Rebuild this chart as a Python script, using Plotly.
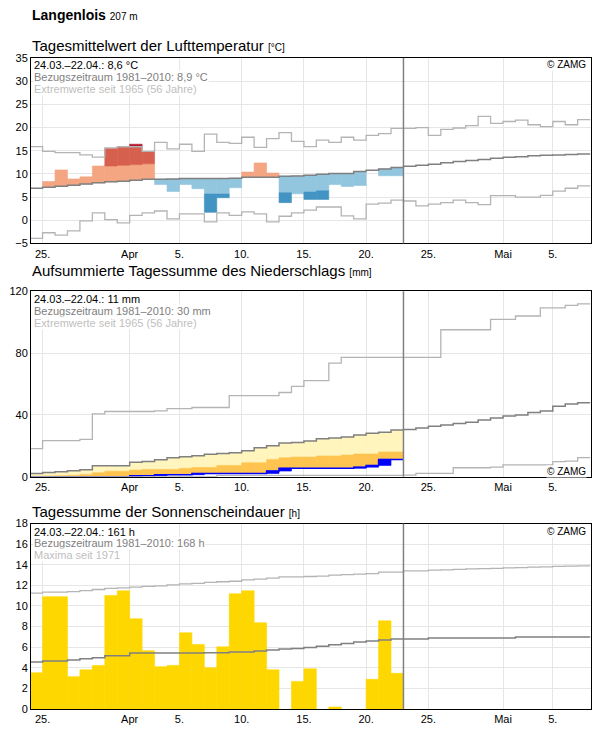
import plotly.graph_objects as go

# ---------------- data (day index 0 = 24.03., 30 = 23.04.) ----------------
TICK_POS = [1, 8, 12, 17, 22, 27, 32, 38, 42]
TICK_TXT = ["25.", "Apr", "5.", "10.", "15.", "20.", "25.", "Mai", "5."]

# Temperature (°C)
temp_obs = [6.93, 8.36, 10.86, 8.9, 9.36, 11.7, 15.5, 15.86, 16.4, 14.7, 7.7, 6.2, 7.7, 6.8, 1.7,
            4.86, 7.0, 10.4, 12.36, 10.2, 3.8, 5.7, 4.5, 4.5, 7.7, 7.3, 7.5, 10.8, 9.6, 9.6]
temp_norm = [6.93, 7.14, 7.36, 7.57, 7.8, 8.07, 8.3, 8.4, 8.64, 8.86, 8.86, 8.9, 9.0, 9.0, 9.0,
             9.0, 9.05, 9.3, 9.3, 9.3, 9.5, 9.57, 9.7, 9.93, 10.1, 10.1, 10.5, 10.8, 11.07, 11.4,
             11.64, 11.86, 12.1, 12.4, 12.66, 12.9, 13.1, 13.4, 13.6, 13.7, 13.9, 14.0, 14.1, 14.2, 14.3]
temp_upper = [10.5, 10.7, 11.0, 11.2, 11.4, 11.75, 11.7, 11.86, 12.0, 12.2, 12.4, 12.5, 12.6, 12.6, 12.6,
              12.6, 12.7, 12.9, 12.9, 12.9, 13.1, 13.2, 13.3, 13.5, 13.7, 13.9, 14.2, 14.4, 14.7, 15.1]
temp_lower = [3.6, 3.8, 4.1, 4.3, 4.5, 4.8, 5.0, 5.1, 5.3, 5.5, 5.56, 5.6, 5.64, 5.64, 5.64,
              5.64, 5.7, 5.9, 5.9, 5.9, 5.93, 5.6, 6.07, 6.36, 6.6, 6.8, 7.2, 7.4, 7.7, 8.1]
temp_max = [15.9, 14.86, 14.6, 14.6, 14.1, 13.6, 15.6, 15.86, 15.86, 14.86, 16.8, 15.4, 16.4, 14.86, 18.6,
            16.8, 16.6, 17.9, 15.7, 17.6, 18.9, 17.0, 15.9, 17.3, 16.8, 17.9, 17.3, 18.3, 18.7, 19.8,
            19.8, 20.0, 18.3, 19.6, 19.9, 20.4, 22.4, 20.9, 21.3, 21.6, 20.6, 20.2, 21.3, 20.6, 21.7]
temp_min = [-3.93, -2.7, -3.2, -2.3, -0.14, 1.57, 0.14, -0.57, 1.07, 1.57, 2.0, 0.29, 1.36, 1.36, -0.36,
            1.57, 1.07, 1.8, 1.36, -0.36, 0.86, 1.58, 2.2, 2.86, 2.86, 0.94, 0.3, 3.5, 3.7, 4.36,
            4.15, 3.08, 3.5, 3.8, 4.36, 3.8, 3.36, 5.3, 5.3, 5.0, 5.0, 5.36, 6.3, 6.9, 7.4]

# Precipitation, accumulated (mm)
prec_obs = [0, 0, 0, 0, 0, 0, 0, 0, 0.6, 0.6, 1.3, 1.3, 1.3, 2.1, 2.1,
            2.1, 2.1, 2.1, 2.1, 3.65, 5.4, 5.4, 5.4, 5.4, 5.4, 5.4, 6.2, 7.3, 11.2, 11.2]
prec_norm = [2.1, 2.8, 3.2, 3.9, 4.5, 7.1, 7.1, 7.1, 9.3, 9.9, 11.0, 12.3, 12.95, 13.6, 14.5,
             15.1, 15.5, 16.8, 18.8, 20.1, 21.8, 22.2, 23.1, 24.6, 25.1, 25.7, 27.0, 28.1, 28.7, 30.2,
             30.5, 31.5, 32.6, 33.5, 34.4, 35.2, 36.7, 38.0, 39.3, 40.0, 41.5, 42.6, 45.6, 47.1, 47.8]
prec_lowq = [0.3, 0.5, 0.7, 0.9, 1.5, 2.6, 3.6, 3.6, 4.3, 4.7, 4.7, 4.7, 5.4, 6.0, 6.0,
             7.3, 7.3, 9.05, 9.05, 11.2, 12.3, 12.7, 12.7, 13.4, 13.4, 14.0, 14.7, 14.7, 16.0, 16.0]
prec_max = [18.2, 23.4, 23.4, 23.4, 24.2, 40.6, 42.2, 42.2, 42.2, 42.2, 42.6, 44.1, 44.1, 44.8, 44.8,
            44.8, 52.5, 52.5, 52.5, 52.5, 54.5, 58.4, 62.2, 62.2, 73.5, 77.2, 77.2, 77.2, 77.2, 77.2,
            77.2, 77.2, 77.2, 95.1, 95.1, 95.1, 95.1, 101.8, 101.8, 104.0, 104.0, 109.2, 109.2, 110.9, 111.8]
prec_min = [0, 0, 0, 0, 0, 0, 0, 0, 0, 0, 0, 0, 0, 0, 0,
            0.8, 0.8, 0.8, 0.8, 0.8, 0.8, 0.8, 0.8, 0.8, 0.8, 0.8, 0.8, 0.8, 0.8, 0.8,
            1.0, 2.1, 2.1, 2.1, 5.8, 5.8, 5.8, 6.2, 7.7, 7.7, 7.7, 7.7, 9.7, 10.1, 12.3]

# Sunshine duration (h)
sun_obs = [3.52, 10.9, 10.9, 3.14, 3.81, 4.23, 11.02, 11.47, 8.76, 5.66, 4.1, 4.23, 7.4, 6.27, 4.0,
           6.04, 11.18, 11.47, 8.37, 3.81, 0, 2.68, 3.9, 0, 0.2, 0, 0, 2.88, 8.56, 3.46]
sun_norm = [4.56, 4.65, 4.65, 4.75, 4.88, 4.98, 5.17, 5.17, 5.43, 5.43, 5.43, 5.43, 5.43, 5.43, 5.46,
            5.46, 5.53, 5.53, 5.62, 5.72, 5.82, 5.88, 5.98, 6.08, 6.24, 6.37, 6.5, 6.6, 6.69, 6.79,
            6.79, 6.79, 6.88, 6.88, 6.88, 6.88, 6.88, 6.88, 6.88, 6.98, 6.98, 6.98, 6.98, 6.98, 6.98]
sun_max = [11.25, 11.34, 11.34, 11.4, 11.5, 11.6, 11.7, 11.75, 11.83, 11.9, 11.95, 12.05, 12.15, 12.2, 12.3,
           12.35, 12.4, 12.54, 12.6, 12.7, 12.83, 12.83, 12.86, 12.9, 13.0, 13.05, 13.1, 13.15, 13.28, 13.28,
           13.41, 13.41, 13.48, 13.5, 13.55, 13.6, 13.62, 13.65, 13.7, 13.72, 13.77, 13.8, 13.85, 13.87, 13.9]

# ---------------- layout geometry (pixels) ----------------
W, H = 596, 729
PL, PR, PT, PB = 31, 592, 58, 711
PANELS = [(58, 244), (292, 478), (525, 711)]
FONT = "Liberation Sans, Arial, sans-serif"


def fx(px):
    return (px - PL) / (PR - PL)


def fy(py):
    return (PB - py) / (PB - PT)


C_NORM = "#808080"
C_EXT = "#b4b4b4"

fig = go.Figure()


def add_boxes(xs, lows, highs, color, ax):
    xx, bb, hh = [], [], []
    for x, lo, hi in zip(xs, lows, highs):
        if hi - lo > 1e-6:
            xx.append(x + 0.5)
            bb.append(lo)
            hh.append(hi - lo)
    if xx:
        fig.add_trace(go.Bar(x=xx, y=hh, base=bb, width=1.0,
                             marker=dict(color=color, line=dict(width=0.6, color=color)),
                             xaxis="x" + ax, yaxis="y" + ax, showlegend=False, hoverinfo="skip"))


def add_step(vals, color, width, ax):
    xs = list(range(len(vals))) + [len(vals)]
    ys = list(vals) + [vals[-1]]
    fig.add_trace(go.Scatter(x=xs, y=ys, mode="lines", line=dict(color=color, width=width, shape="hv"),
                             xaxis="x" + ax, yaxis="y" + ax, showlegend=False, hoverinfo="skip"))


# ---- panel 1: temperature ----
n = len(temp_obs)
ks = list(range(n))
seg = {"lw": ([], [], []), "mw": ([], [], []), "dw": ([], [], []),
       "lc": ([], [], []), "mc": ([], [], []), "dc": ([], [], [])}


def put(key, k, lo, hi):
    if hi > lo:
        seg[key][0].append(k)
        seg[key][1].append(lo)
        seg[key][2].append(hi)


for k in ks:
    v, nm, up, lo = temp_obs[k], temp_norm[k], temp_upper[k], temp_lower[k]
    mx, mn = temp_max[k], temp_min[k]
    if v > nm:
        put("lw", k, nm, min(v, up))
        put("mw", k, up, min(v, max(mx, up)))
        put("dw", k, max(mx, up), v)
    elif v < nm:
        put("lc", k, max(v, lo), nm)
        put("mc", k, max(v, min(mn, lo)), lo)
        put("dc", k, v, min(mn, lo))

colors = {"lw": "#f4a582", "mw": "#d6604d", "dw": "#b2182b",
          "lc": "#92c5de", "mc": "#4393c3", "dc": "#2166ac"}
for key in ["lw", "mw", "dw", "lc", "mc", "dc"]:
    add_boxes(*seg[key], colors[key], "")

add_step(temp_max, C_EXT, 1.3, "")
add_step(temp_min, C_EXT, 1.3, "")
add_step(temp_norm, C_NORM, 1.5, "")

# ---- panel 2: precipitation ----
add_boxes(ks, prec_lowq, prec_norm[:n], "#fff5bd", "2")
add_boxes(ks, prec_obs, prec_lowq, "#fec44f", "2")
prev = [0] + prec_obs[:-1]
add_boxes(ks, prev, prec_obs, "#0000ff", "2")
fig.add_trace(go.Scatter(x=list(range(n)) + [n], y=prec_obs + [prec_obs[-1]], mode="lines",
                         line=dict(color="#0000ff", width=1.5, shape="hv"),
                         xaxis="x2", yaxis="y2", showlegend=False, hoverinfo="skip"))
add_step(prec_max, C_EXT, 1.3, "2")
add_step(prec_min, C_EXT, 1.3, "2")
add_step(prec_norm, C_NORM, 1.5, "2")

# ---- panel 3: sunshine ----
add_boxes(ks, [0] * n, sun_obs, "#ffd700", "3")
add_step(sun_max, C_EXT, 1.3, "3")
add_step(sun_norm, C_NORM, 1.5, "3")

# ---------------- axes ----------------
xcommon = dict(range=[0.07, 45.07], tickmode="array", tickvals=TICK_POS, ticktext=TICK_TXT,
               showgrid=True, gridcolor="#e6e6e6", gridwidth=1, zeroline=False,
               showline=True, mirror=True, linecolor="black", linewidth=1, ticks="",
               tickfont=dict(family=FONT, size=11, color="black"), domain=[0, 1])
ycommon = dict(showgrid=True, gridcolor="#e6e6e6", gridwidth=1, zeroline=False,
               showline=True, mirror=True, linecolor="black", linewidth=1, ticks="",
               tickfont=dict(family=FONT, size=11, color="black"))

ydefs = [
    dict(range=[-5, 35], tickvals=[-5, 0, 5, 10, 15, 20, 25, 30, 35]),
    dict(range=[0, 120], tickvals=[0, 40, 80, 120]),
    dict(range=[0, 18], tickvals=list(range(0, 19, 2))),
]
lay = {}
for i, ((top, bot), yd) in enumerate(zip(PANELS, ydefs)):
    sfx = "" if i == 0 else str(i + 1)
    lay["xaxis" + sfx] = dict(xcommon, anchor="y" + sfx)
    lay["yaxis" + sfx] = dict(ycommon, anchor="x" + sfx, domain=[fy(bot), fy(top)], **yd)

# ---------------- annotations ----------------
ann = []


def text(x, y, s, size=11, color="black", xanchor="left", bg=None):
    d = dict(x=fx(x), y=fy(y), xref="paper", yref="paper", text=s, showarrow=False,
             xanchor=xanchor, yanchor="middle", font=dict(family=FONT, size=size, color=color))
    if bg:
        d.update(bgcolor=bg, borderpad=0)
    ann.append(d)


text(30, 15, "<b>Langenlois</b> <span style='font-size:10px'>207 m</span>", size=14)
text(30, 45, "Tagesmittelwert der Lufttemperatur <span style='font-size:10px'>[°C]</span>", size=15)
text(30, 271, "Aufsummierte Tagessumme des Niederschlags <span style='font-size:10px'>[mm]</span>", size=15)
text(30, 513, "Tagessumme der Sonnenscheindauer <span style='font-size:10px'>[h]</span>", size=15)

info = [
    (65, ["24.03.–22.04.: 8,6 °C", "Bezugszeitraum 1981–2010: 8,9 °C", "Extremwerte seit 1965 (56 Jahre)"]),
    (300, ["24.03.–22.04.: 11 mm", "Bezugszeitraum 1981–2010: 30 mm", "Extremwerte seit 1965 (56 Jahre)"]),
    (533, ["24.03.–22.04.: 161 h", "Bezugszeitraum 1981–2010: 168 h", "Maxima seit 1971"]),
]
for y0, lines in info:
    for j, (s, c) in enumerate(zip(lines, ["black", "#808080", "#c0c0c0"])):
        text(33, y0 + j * 11.8, s, size=11, color=c, bg="white")

for y in [65, 473, 533]:
    text(588, y, "© ZAMG", size=10, color="black", xanchor="right", bg="white")

shapes = []
for sfx in ["", "2", "3"]:
    shapes.append(dict(type="line", xref="x" + sfx, yref=("y" + sfx) + " domain", x0=30, x1=30, y0=0, y1=1,
                       line=dict(color="#808080", width=1.5)))

fig.update_layout(width=W, height=H, margin=dict(l=PL, r=W - PR, t=PT, b=H - PB),
                  paper_bgcolor="white", plot_bgcolor="white", barmode="overlay",
                  showlegend=False, annotations=ann, shapes=shapes,
                  font=dict(family=FONT), **lay)

fig.write_html("out.html")
